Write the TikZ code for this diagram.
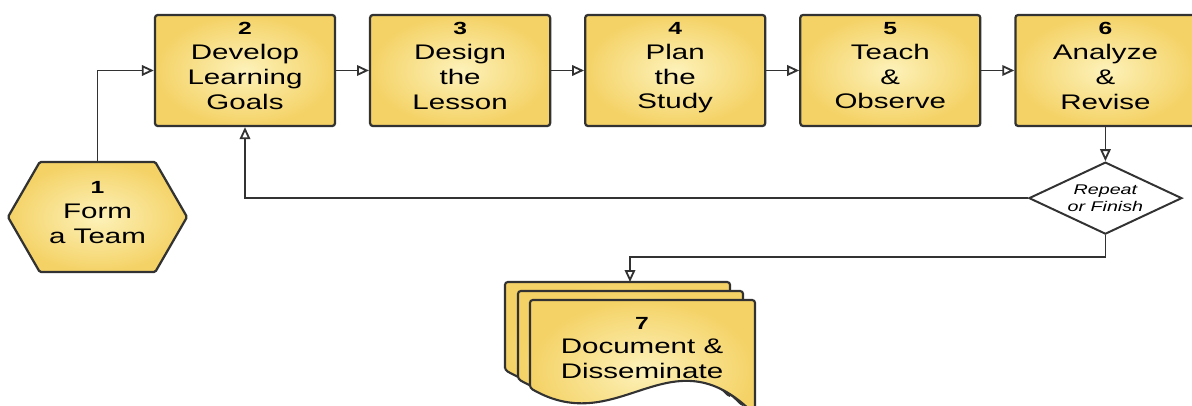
\documentclass[tikz,border=0pt]{standalone}
\usepackage{fontspec}
\setmainfont{Liberation Sans}[FakeStretch=1.4]
\usetikzlibrary{positioning, shapes.geometric, shapes.symbols, arrows.meta}

\definecolor{stepedge}{RGB}{244,210,102}
\definecolor{stepmid}{RGB}{253,242,186}
\definecolor{lineclr}{RGB}{50,50,50}

\newcommand{\stepno}[1]{{\fontsize{12.5}{14}\selectfont\bfseries #1}}

\tikzset{
  stepbox/.style={draw=lineclr, line width=1.6pt, rounded corners=2pt,
    inner color=stepmid, outer color=stepedge, align=center, inner sep=0pt,
    minimum width=4.5cm, minimum height=2.775cm,
    font=\fontsize{15}{17.7}\selectfont,
    execute at end node={\rule[-7pt]{0pt}{0pt}}},
  hexstep/.style={stepbox, rounded corners=1pt, shape=signal,
    signal to=west and east, signal pointer angle=120,
    minimum width=4.475cm, minimum height=2.75cm,
    execute at end node={}},
  decision/.style={draw=lineclr, line width=1.4pt, fill=white, shape=diamond,
    aspect=2.1, inner sep=0pt, align=center,
    minimum width=3.825cm, minimum height=1.8cm,
    font=\fontsize{10}{12}\selectfont\itshape},
  sheet/.style={draw=lineclr, line width=1.5pt, rounded corners=2pt,
    inner color=stepmid, outer color=stepedge},
  flow/.style={draw=lineclr, line width=1.3pt,
    -{Triangle[open, length=8.5pt, width=7.5pt]}},
}

\begin{document}
\begin{tikzpicture}[x=0.025cm, y=-0.025cm]
  \clip (0,0) rectangle (1192,406);

  % steps along the top
  \node[stepbox] (b2) at (245,70.5) {\stepno{2}\\Develop\\Learning\\Goals};
  \node[stepbox, right=0.82cm of b2] (b3) {\stepno{3}\\Design\\the\\Lesson};
  \node[stepbox, right=0.82cm of b3] (b4) {\stepno{4}\\Plan\\the\\Study};
  \node[stepbox, right=0.82cm of b4] (b5) {\stepno{5}\\Teach\\\&\\Observe};
  \node[stepbox, right=0.82cm of b5] (b6) {\stepno{6}\\Analyze\\\&\\Revise};

  \node[hexstep] (h1) at (97.5,217) {\stepno{1}\\Form\\a Team};
  \node[decision, below=0.85cm of b6] (dec) {Repeat\\or Finish};

  % stacked documents
  \foreach \dx/\dy in {0/0, 13/9, 25/18}
    \path[sheet, shift={(505+\dx,282+\dy)}] (0,88) -- (0,0) -- (225,0) -- (225,115)
      .. controls (140,30) and (90,140) .. (0,88) -- cycle;
  \node[align=center, font=\fontsize{15}{17.7}\selectfont] (doc) at (642,348)
    {\stepno{7}\\Document \&\\Disseminate};
  \coordinate (doctop) at (630,282);

  % connectors
  \draw[flow] (h1.north) |- (b2.west);
  \draw[flow] (b2.east) -- (b3.west);
  \draw[flow] (b3.east) -- (b4.west);
  \draw[flow] (b4.east) -- (b5.west);
  \draw[flow] (b5.east) -- (b6.west);
  \draw[flow] (b6.south) -- (dec.north);
  \draw[flow] (dec.west) -| (b2.south);
  \draw[flow] (dec.south) -- ++(0,22) -| (doctop);
\end{tikzpicture}
\end{document}
